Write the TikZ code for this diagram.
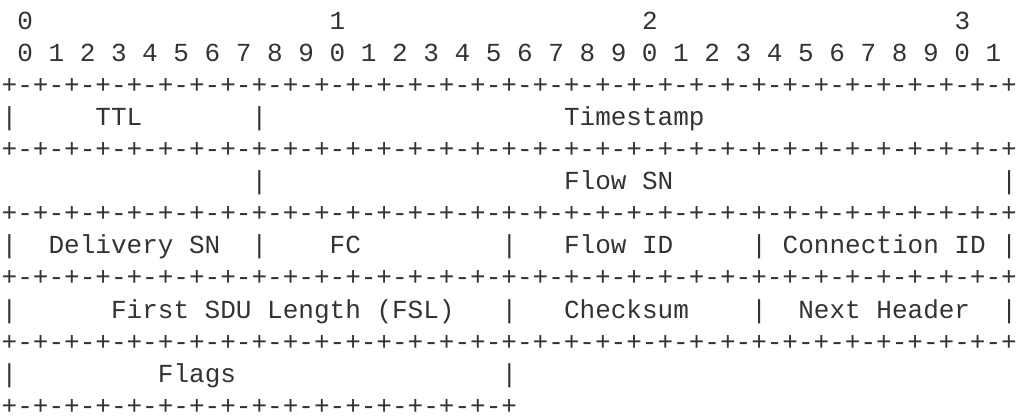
\documentclass[tikz,border=0pt]{standalone}
\usepackage{fontspec}
\setmonofont{Liberation Mono}
\usepackage{tikz}
\definecolor{inkgray}{HTML}{333333}
\tikzstyle{cell}=[anchor=base west, inner sep=0pt, outer sep=0pt, text=inkgray,
  font=\ttfamily\fontsize{19.52pt}{24pt}\selectfont]
\newcommand{\fullrule}{+-+-+-+-+-+-+-+-+-+-+-+-+-+-+-+-+-+-+-+-+-+-+-+-+-+-+-+-+-+-+-+-+}
\newcommand{\halfrule}{+-+-+-+-+-+-+-+-+-+-+-+-+-+-+-+-+}

\begin{document}
\begin{tikzpicture}[x=11.715pt, y=24.075pt]
  \useasboundingbox (-0.109,-12.146) rectangle (65.128,0.907);
  % bit numbers
  \node[cell] (tens0) at (1,  0) {0};
  \node[cell] (tens1) at (21, 0) {1};
  \node[cell] (tens2) at (41, 0) {2};
  \node[cell] (tens3) at (61, 0) {3};
  \node[cell] (bits)  at (1, -1) {0 1 2 3 4 5 6 7 8 9 0 1 2 3 4 5 6 7 8 9 0 1 2 3 4 5 6 7 8 9 0 1};
  \node[cell] (rule1) at (0, -2) {\fullrule};
  % word 1
  \node[cell] (bar1a)     at (0,  -3) {|};
  \node[cell] (ttl)       at (6,  -3) {TTL};
  \node[cell] (bar1b)     at (16, -3) {|};
  \node[cell] (timestamp) at (36, -3) {Timestamp};
  \node[cell] (rule2) at (0, -4) {\fullrule};
  % word 2
  \node[cell] (bar2a)  at (16, -5) {|};
  \node[cell] (flowsn) at (36, -5) {Flow SN};
  \node[cell] (bar2b)  at (64, -5) {|};
  \node[cell] (rule3) at (0, -6) {\fullrule};
  % word 3
  \node[cell] (bar3a)    at (0,  -7) {|};
  \node[cell] (delivsn)  at (3,  -7) {Delivery SN};
  \node[cell] (bar3b)    at (16, -7) {|};
  \node[cell] (fc)       at (21, -7) {FC};
  \node[cell] (bar3c)    at (32, -7) {|};
  \node[cell] (flowid)   at (36, -7) {Flow ID};
  \node[cell] (bar3d)    at (48, -7) {|};
  \node[cell] (connid)   at (50, -7) {Connection ID};
  \node[cell] (bar3e)    at (64, -7) {|};
  \node[cell] (rule4) at (0, -8) {\fullrule};
  % word 4
  \node[cell] (bar4a)    at (0,  -9) {|};
  \node[cell] (fsl)      at (7,  -9) {First SDU Length (FSL)};
  \node[cell] (bar4b)    at (32, -9) {|};
  \node[cell] (checksum) at (36, -9) {Checksum};
  \node[cell] (bar4c)    at (48, -9) {|};
  \node[cell] (nexthdr)  at (51, -9) {Next Header};
  \node[cell] (bar4d)    at (64, -9) {|};
  \node[cell] (rule5) at (0, -10) {\fullrule};
  % word 5
  \node[cell] (bar5a) at (0,  -11) {|};
  \node[cell] (flags) at (10, -11) {Flags};
  \node[cell] (bar5b) at (32, -11) {|};
  \node[cell] (rule6) at (0, -12) {\halfrule};
\end{tikzpicture}
\end{document}
